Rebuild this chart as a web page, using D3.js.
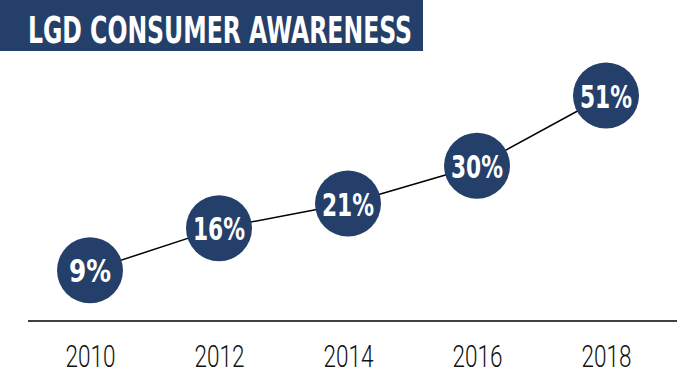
<!DOCTYPE html>
<html>
<head>
<meta charset="utf-8">
<script src="https://cdn.jsdelivr.net/npm/d3@7"></script>
<style>
  html, body { margin: 0; padding: 0; background: #fff; }
  #screen { width: 678px; height: 383px; }
</style>
</head>
<body>
<div id="screen"></div>
<script>
// chart data
const years = ["2010", "2012", "2014", "2016", "2018"];
const awareness = [9, 16, 21, 30, 51];
const valueLabels = ["9%", "16%", "21%", "30%", "51%"];
const titleText = "LGD CONSUMER AWARENESS";

const navy = "#243f69";
const width = 678, height = 383;
const radius = 33;

const svg = d3.select("#screen").append("svg")
    .attr("width", width)
    .attr("height", height);

// scales
const x = d3.scalePoint()
    .domain(years)
    .range([90, 606]);

const y = d3.scaleSqrt()
    .domain([0, 60])
    .range([397, 70]);

// title box
svg.append("rect")
    .attr("x", 0).attr("y", 0)
    .attr("width", 423).attr("height", 51)
    .attr("fill", navy);

svg.append("text")
    .text(titleText)
    .attr("x", 28).attr("y", 43)
    .attr("fill", "white")
    .attr("font-family", "'DejaVu Sans Condensed', 'DejaVu Sans', sans-serif")
    .attr("font-stretch", "condensed")
    .attr("font-weight", "bold")
    .attr("font-size", 38)
    .attr("textLength", 384)
    .attr("lengthAdjust", "spacingAndGlyphs");

// baseline
svg.append("line")
    .attr("x1", 28).attr("x2", 677)
    .attr("y1", 321).attr("y2", 321)
    .attr("stroke", "black")
    .attr("stroke-width", 1.5);

// year labels (axis without domain/ticks)
const axis = svg.append("g")
    .attr("transform", "translate(0,367)")
    .call(d3.axisBottom(x).tickSize(0).tickPadding(0));
axis.select(".domain").remove();
axis.selectAll("text")
    .attr("dy", 0)
    .attr("fill", "#111")
    .attr("font-family", "Roboto, 'DejaVu Sans Condensed', sans-serif")
    .attr("font-weight", 300)
    .attr("font-size", 31)
    .attr("textLength", 50)
    .attr("lengthAdjust", "spacingAndGlyphs");

// trend line
const pts = years.map((yr, i) => ({ year: yr, value: awareness[i], label: valueLabels[i] }));

svg.append("path")
    .datum(pts)
    .attr("fill", "none")
    .attr("stroke", "black")
    .attr("stroke-width", 1.5)
    .attr("d", d3.line().x(d => x(d.year)).y(d => y(d.value)));

// bubbles
const bubble = svg.selectAll("g.bubble")
    .data(pts)
    .enter().append("g")
    .attr("class", "bubble")
    .attr("transform", d => "translate(" + x(d.year) + "," + y(d.value) + ")");

bubble.append("circle")
    .attr("r", radius)
    .attr("fill", navy);

bubble.append("text")
    .text(d => d.label)
    .attr("text-anchor", "middle")
    .attr("y", 12)
    .attr("fill", "white")
    .attr("font-family", "'DejaVu Sans Condensed', 'DejaVu Sans', sans-serif")
    .attr("font-stretch", "condensed")
    .attr("font-weight", "bold")
    .attr("font-size", 32)
    .attr("textLength", d => d.label.length == 2 ? 42 : 52)
    .attr("lengthAdjust", "spacingAndGlyphs");
</script>
</body>
</html>
